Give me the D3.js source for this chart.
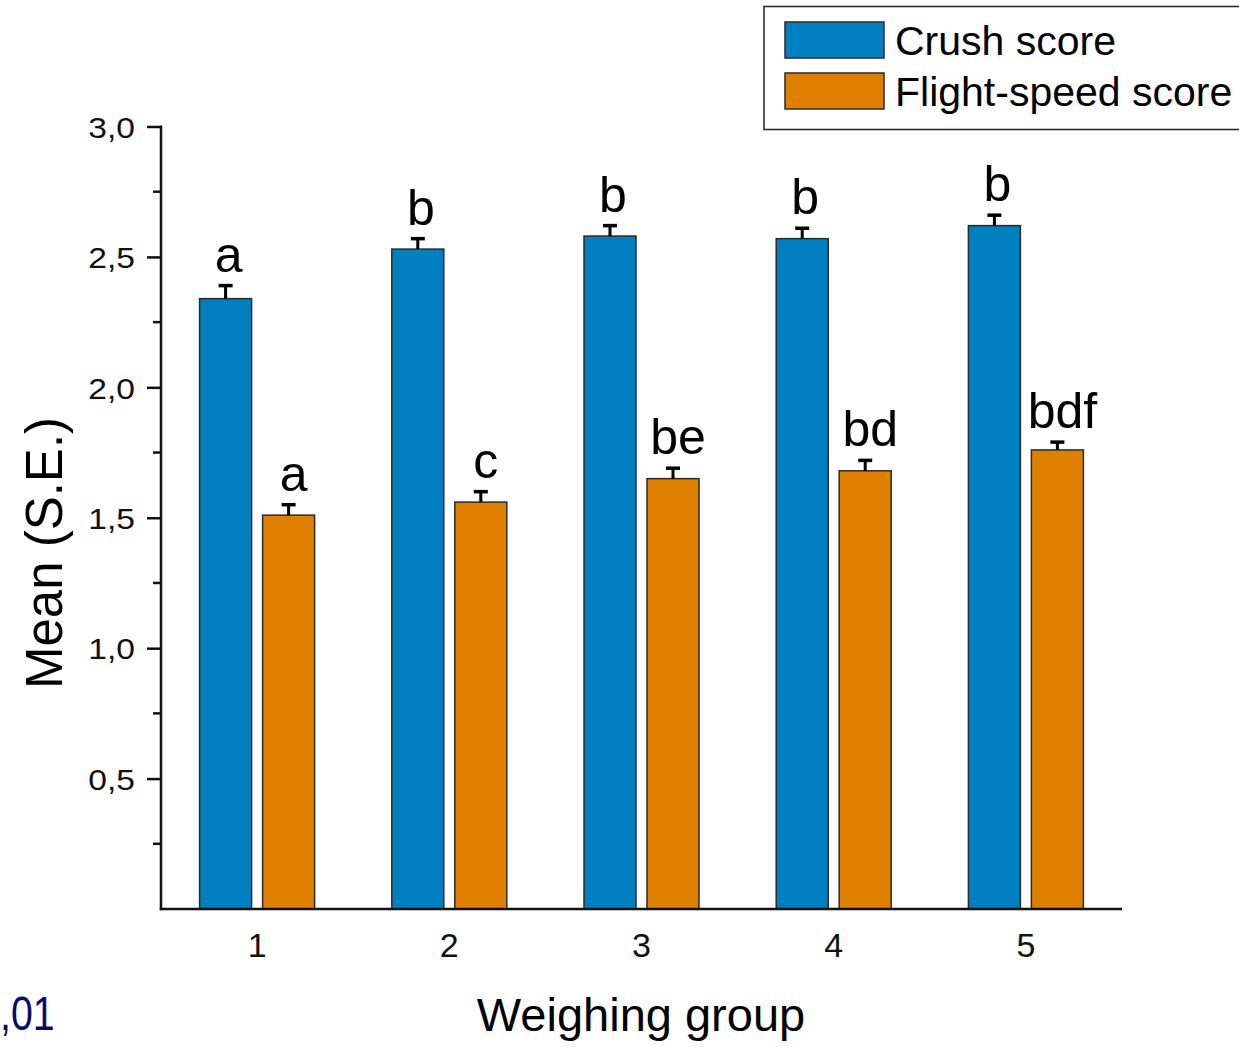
<!DOCTYPE html>
<html>
<head>
<meta charset="utf-8">
<script src="https://cdn.jsdelivr.net/npm/d3@7"></script>
<style>
  html, body { margin: 0; padding: 0; background: #fff; }
  svg { display: block; font-family: "Liberation Sans", Arial, sans-serif; }
</style>
</head>
<body>
<svg id="chart" width="1239" height="1047"></svg>
<script>
// ---- data ----
const groups = ["1", "2", "3", "4", "5"];
const seriesNames = ["Crush score", "Flight-speed score"];
const crushMean = [2.34, 2.53, 2.58, 2.57, 2.62];
const crushSE = [0.05, 0.04, 0.04, 0.04, 0.04];
const flightMean = [1.51, 1.56, 1.65, 1.68, 1.76];
const flightSE = [0.04, 0.04, 0.04, 0.04, 0.03];
const crushLetters = ["a", "b", "b", "b", "b"];
const flightLetters = ["a", "c", "be", "bd", "bdf"];
const yMajorTicks = [0.5, 1.0, 1.5, 2.0, 2.5, 3.0];
const yMinorTicks = [0.25, 0.75, 1.25, 1.75, 2.25, 2.75];
const colors = ["#0080c0", "#e08000"];

// ---- layout ----
const svg = d3.select("#chart");
const plotL = 161, plotR = 1122, plotT = 126.5, plotB = 909;

const x0 = d3.scaleBand().domain(groups).range([plotL, plotR]).paddingInner(0).paddingOuter(0);
const barW = 52, gap = 11, step = barW + gap;
const pIn = gap / step;
const pOut = ((x0.bandwidth() / step) - 2 + pIn) / 2;
const x1 = d3.scaleBand().domain(seriesNames).range([0, x0.bandwidth()]).paddingInner(pIn).paddingOuter(pOut);
const y = d3.scaleLinear().domain([0, 3]).range([plotB, plotT]);

const rows = groups.map((g, i) => ({
  g,
  vals: [
    { key: seriesNames[0], mean: crushMean[i], se: crushSE[i], letter: crushLetters[i], color: colors[0] },
    { key: seriesNames[1], mean: flightMean[i], se: flightSE[i], letter: flightLetters[i], color: colors[1] }
  ]
}));

// bars
const gGroups = svg.append("g").selectAll("g").data(rows).join("g")
  .attr("transform", d => `translate(${x0(d.g)},0)`);

gGroups.selectAll("rect").data(d => d.vals).join("rect")
  .attr("x", d => x1(d.key))
  .attr("width", x1.bandwidth())
  .attr("y", d => y(d.mean))
  .attr("height", d => y(0) - y(d.mean))
  .attr("fill", d => d.color)
  .attr("stroke", "#2a2a2a")
  .attr("stroke-width", 1.5);

// error bars (upper only)
const eb = gGroups.selectAll("g.err").data(d => d.vals).join("g").attr("class", "err");
eb.append("line")
  .attr("x1", d => x1(d.key) + x1.bandwidth() / 2)
  .attr("x2", d => x1(d.key) + x1.bandwidth() / 2)
  .attr("y1", d => y(d.mean))
  .attr("y2", d => y(d.mean + d.se))
  .attr("stroke", "#000").attr("stroke-width", 3);
eb.append("line")
  .attr("x1", d => x1(d.key) + x1.bandwidth() / 2 - 7)
  .attr("x2", d => x1(d.key) + x1.bandwidth() / 2 + 7)
  .attr("y1", d => y(d.mean + d.se))
  .attr("y2", d => y(d.mean + d.se))
  .attr("stroke", "#000").attr("stroke-width", 3.5);

// letters
gGroups.selectAll("text.letter").data(d => d.vals).join("text")
  .attr("class", "letter")
  .attr("x", (d, i) => x1(d.key) + x1.bandwidth() / 2 + (i === 1 ? 5 : 3))
  .attr("y", d => y(d.mean + d.se) - 14)
  .attr("text-anchor", "middle")
  .attr("font-size", 50)
  .attr("fill", "#000")
  .text(d => d.letter);

// y axis
const ySx = 1.12;
const yAxis = d3.axisLeft(y).tickValues(yMajorTicks).tickSize(14).tickSizeOuter(0)
  .tickFormat(d => d.toFixed(1).replace(".", ","));
const gy = svg.append("g").attr("transform", `translate(${plotL},0)`).call(yAxis);
gy.select(".domain").remove();
gy.selectAll(".tick line").attr("stroke", "#111").attr("stroke-width", 2.5);
gy.selectAll(".tick text")
  .attr("font-size", 30)
  .attr("font-family", "Liberation Sans, Arial, sans-serif")
  .attr("fill", "#111")
  .attr("x", -26 / ySx)
  .attr("dy", "0.36em")
  .attr("transform", `scale(${ySx},1)`);
svg.append("g").selectAll("line").data(yMinorTicks).join("line")
  .attr("x1", plotL - 8).attr("x2", plotL)
  .attr("y1", d => y(d)).attr("y2", d => y(d))
  .attr("stroke", "#111").attr("stroke-width", 2.5);
svg.append("line").attr("x1", plotL).attr("x2", plotL)
  .attr("y1", y(3) - 1).attr("y2", plotB + 1.25)
  .attr("stroke", "#111").attr("stroke-width", 2.5);

// x axis
const xAxis = d3.axisBottom(x0).tickSize(0).tickSizeOuter(0);
const gx = svg.append("g").attr("transform", `translate(0,${plotB})`).call(xAxis);
gx.select(".domain").remove();
gx.selectAll(".tick text")
  .attr("font-size", 34)
  .attr("font-family", "Liberation Sans, Arial, sans-serif")
  .attr("fill", "#111")
  .attr("y", 48)
  .attr("dy", 0);
svg.append("line").attr("x1", plotL - 1.25).attr("x2", plotR)
  .attr("y1", plotB).attr("y2", plotB)
  .attr("stroke", "#111").attr("stroke-width", 2.5);

// axis titles
svg.append("text")
  .attr("transform", "translate(62,553) rotate(-90)")
  .attr("text-anchor", "middle")
  .attr("font-size", 51)
  .attr("fill", "#000")
  .text("Mean (S.E.)");
svg.append("text")
  .attr("x", 641).attr("y", 1031)
  .attr("text-anchor", "middle")
  .attr("font-size", 47)
  .attr("fill", "#000")
  .text("Weighing group");

// partially visible annotation bottom-left
svg.append("text")
  .attr("transform", "translate(0,1030) scale(0.82,1)")
  .attr("x", 0).attr("y", 0)
  .attr("font-size", 48)
  .attr("fill", "#0a0a6a")
  .text(",01");

// legend
const lg = svg.append("g");
lg.append("rect").attr("x", 764).attr("y", 6.5).attr("width", 500).attr("height", 123)
  .attr("fill", "#fff").attr("stroke", "#222").attr("stroke-width", 1.5);
const li = lg.selectAll("g.item").data(seriesNames).join("g").attr("class", "item")
  .attr("transform", (d, i) => `translate(785,${22 + i * 51})`);
li.append("rect").attr("width", 99).attr("height", 36)
  .attr("fill", (d, i) => colors[i]).attr("stroke", "#2a2a2a").attr("stroke-width", 1.5);
li.append("text").attr("x", 110).attr("y", 33)
  .attr("font-size", 41).attr("fill", "#000")
  .text(d => d);
</script>
</body>
</html>
